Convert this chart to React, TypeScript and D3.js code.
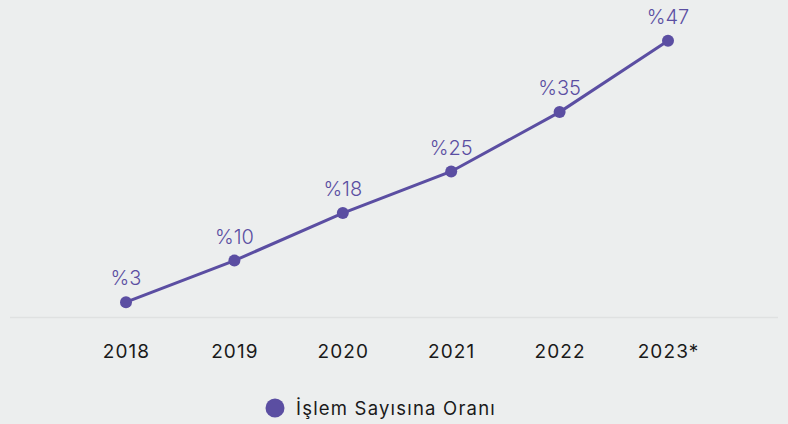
import * as d3 from "d3";
import { useEffect, useRef } from "react";

// data
const years = ["2018", "2019", "2020", "2021", "2022", "2023*"];
const ratios = [3, 10, 18, 25, 35, 47];
const seriesName = "İşlem Sayısına Oranı";

const W = 788;
const H = 424;
const purple = "#5b4ea2";
const font = "Inter, 'Noto Sans', sans-serif";

export default function App() {
  const ref = useRef<SVGSVGElement>(null);

  useEffect(() => {
    const svg = d3.select(ref.current);
    svg.selectAll("*").remove();

    const x = d3.scalePoint<string>().domain(years).range([126, 668]);
    const y = d3.scaleLinear().domain([0, 50]).range([320, 23]);

    svg.append("rect").attr("width", W).attr("height", H).attr("fill", "#eceeee");

    // base line
    svg.append("line")
      .attr("x1", 10).attr("x2", 778)
      .attr("y1", 317.5).attr("y2", 317.5)
      .attr("stroke", "#dfe1e1").attr("stroke-width", 1.5);

    const pts = years.map((yr, i) => ({ yr, v: ratios[i] }));

    const line = d3.line<{ yr: string; v: number }>()
      .x(d => x(d.yr)!)
      .y(d => y(d.v));

    svg.append("path")
      .datum(pts)
      .attr("d", line)
      .attr("fill", "none")
      .attr("stroke", purple)
      .attr("stroke-width", 3);

    svg.selectAll(".dot")
      .data(pts)
      .enter()
      .append("circle")
      .attr("cx", d => x(d.yr)!)
      .attr("cy", d => y(d.v))
      .attr("r", 6)
      .attr("fill", purple);

    svg.selectAll(".val")
      .data(pts)
      .enter()
      .append("text")
      .attr("x", d => x(d.yr)!)
      .attr("y", d => y(d.v) - 17)
      .attr("text-anchor", "middle")
      .style("font-family", font)
      .style("font-size", "20px")
      .style("font-weight", 300)
      .attr("fill", purple)
      .text(d => "%" + d.v);

    // x axis labels
    const xAxis = d3.axisBottom(x).tickSize(0).tickPadding(0);
    const g = svg.append("g").attr("transform", "translate(0, 358)").call(xAxis);
    g.select(".domain").remove();
    g.selectAll("text")
      .attr("y", 0)
      .attr("dy", 0)
      .style("font-family", font)
      .style("font-size", "19px")
      .style("letter-spacing", "1.1px")
      .attr("fill", "#1a1a1a");

    // legend
    svg.append("circle").attr("cx", 275).attr("cy", 408).attr("r", 9.5).attr("fill", purple);
    svg.append("text")
      .attr("x", 296).attr("y", 415)
      .style("font-family", font)
      .style("font-size", "18.5px")
      .style("letter-spacing", "1.2px")
      .attr("fill", "#1a1a1a")
      .text(seriesName);
  }, []);

  return (
    <div style={{ position: "absolute", left: 0, top: 0 }}>
      <svg ref={ref} width={W} height={H} style={{ display: "block" }} />
    </div>
  );
}
